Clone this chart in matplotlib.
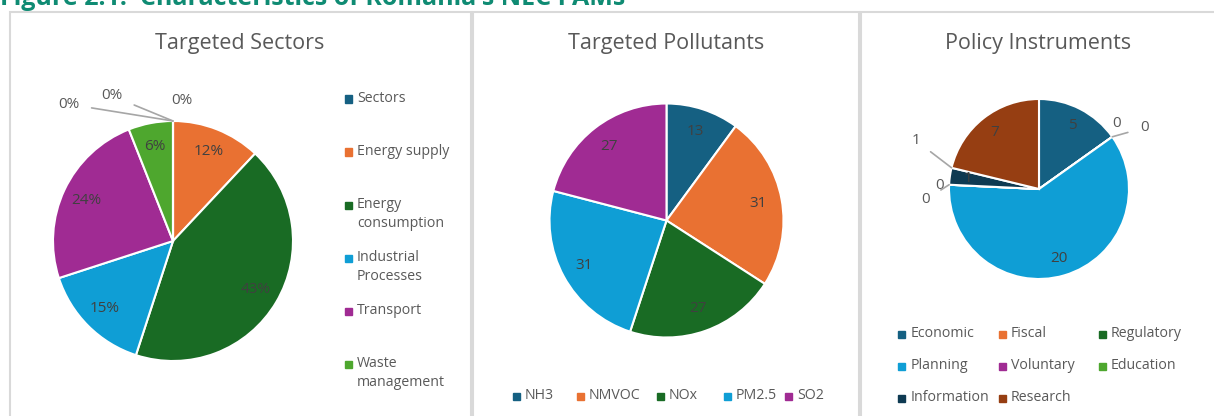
import matplotlib
matplotlib.use("Agg")
import matplotlib.pyplot as plt
from matplotlib.patches import Rectangle
import numpy as np

plt.rcParams['font.family'] = ['Open Sans', 'DejaVu Sans']

# data
sector_names = ['Sectors', 'Energy supply', 'Energy\nconsumption', 'Industrial\nProcesses',
                'Transport', 'Waste\nmanagement', '', '']
sector_pct = [0, 12, 43, 15, 24, 6, 0, 0]

pollutant_names = ['NH3', 'NMVOC', 'NOx', 'PM2.5', 'SO2']
pollutant_counts = [13, 31, 27, 31, 27]

instrument_names = ['Economic', 'Fiscal', 'Regulatory', 'Planning', 'Voluntary',
                    'Education', 'Information', 'Research']
instrument_counts = [5, 0, 0, 20, 0, 0, 1, 7]

c_sec = ['#156082', '#E97132', '#196B24', '#0F9ED5', '#A02B93', '#4EA72E', '#156082', '#E97132']
c_pol = ['#156082', '#E97132', '#196B24', '#0F9ED5', '#A02B93']
c_ins = ['#156082', '#E97132', '#196B24', '#0F9ED5', '#A02B93', '#4EA72E', '#0E3A52', '#963E12']

W, H = 1214, 416
fig = plt.figure(figsize=(W / 100, H / 100), dpi=100)
grey = '#595959'
lab = '#404040'


def fx(x):
    return x / W


def fy(y):
    return 1 - y / H


# panel frames
for x0, x1 in [(10, 471), (473, 859), (861, 1216)]:
    fig.add_artist(Rectangle((fx(x0), fy(420)), fx(x1 - x0), (420 - 12) / H,
                             fill=False, ec='#D9D9D9', lw=1.5, transform=fig.transFigure))

fig.text(fx(0), fy(5), "Figure 2.1:  Characteristics of Romania's NEC PAMs",
         color='#0F8B73', fontsize=18, fontweight='bold', va='baseline')

fig.text(fx(240), fy(43), 'Targeted Sectors', ha='center', va='center', fontsize=15.5, color=grey)
fig.text(fx(666), fy(43), 'Targeted Pollutants', ha='center', va='center', fontsize=15.5, color=grey)
fig.text(fx(1038), fy(43), 'Policy Instruments', ha='center', va='center', fontsize=15.5, color=grey)


def pie_axes(cx, cy, r, s):
    ax = fig.add_axes([fx(cx - s), fy(cy + s), 2 * s / W, 2 * s / H])
    ax.set_xlim(-s / r, s / r)
    ax.set_ylim(-s / r, s / r)
    ax.set_aspect('equal')
    ax.axis('off')
    return ax


def draw_pie(ax, vals, colors, fmt):
    wedges, texts = ax.pie(vals, colors=colors, startangle=90, counterclock=False,
                           wedgeprops=dict(edgecolor='white', linewidth=1.5),
                           labels=[fmt(v) if v > 0 else '' for v in vals],
                           labeldistance=0.8, frame=True,
                           textprops=dict(color=lab, fontsize=11, ha='center', va='center'))
    for t in texts:
        t.set_ha('center')
    return wedges


def zero_label(ax, wedge, text, xy_text, line=True):
    a = np.deg2rad(wedge.theta1)
    p = (np.cos(a), np.sin(a))
    if line:
        ax.annotate(text, xy=p, xytext=xy_text, fontsize=11, color=grey,
                    ha='center', va='center',
                    arrowprops=dict(arrowstyle='-', color='#A6A6A6', lw=1.2,
                                    shrinkA=7, shrinkB=0))
    else:
        ax.text(xy_text[0], xy_text[1], text, fontsize=11, color=grey, ha='center', va='center')


# pie 1
ax1 = pie_axes(173, 241, 120, 140)
w1 = draw_pie(ax1, sector_pct, c_sec, lambda v: f'{v}%')
zero_label(ax1, w1[0], '0%', (0.07, 1.17), line=False)
zero_label(ax1, w1[6], '0%', (-0.51, 1.21))
zero_label(ax1, w1[7], '0%', (-0.87, 1.14))

# pie 2
ax2 = pie_axes(666.5, 220.5, 117, 130)
draw_pie(ax2, pollutant_counts, c_pol, lambda v: f'{v}')

# pie 3
ax3 = pie_axes(1039, 189, 90, 105)
w3 = draw_pie(ax3, instrument_counts, c_ins, lambda v: f'{v}')
zero_label(ax3, w3[1], '0', (0.86, 0.73), line=False)
zero_label(ax3, w3[2], '0', (1.17, 0.68))
zero_label(ax3, w3[4], '0', (-1.11, 0.04), line=False)
zero_label(ax3, w3[5], '0', (-1.26, -0.12))
zero_label(ax3, w3[6], '1', (-1.37, 0.54))


def legend_item(x, y, name, color):
    fig.add_artist(Rectangle((fx(x - 3.5), fy(y + 3.5)), 7 / W, 7 / H, color=color,
                             transform=fig.transFigure))
    fig.text(fx(x + 9), fy(y), name, fontsize=10.2, color=grey, va='top',
             linespacing=1.35, transform=fig.transFigure)


# legends
for i, name in enumerate(sector_names[:6]):
    y = 99 + 53 * i
    legend_item(348, y, name, c_sec[i])
    fig.texts[-1].set_position((fx(357), fy(y - 8)))

pol_x = [516, 580, 660, 727, 788]
for i, name in enumerate(pollutant_names):
    legend_item(pol_x[i], 396, name, c_pol[i])
    fig.texts[-1].set_position((fx(pol_x[i] + 9), fy(388)))

ins_x = [902, 1002, 1102]
for i, name in enumerate(instrument_names):
    x = ins_x[i % 3]
    y = 334 + 32 * (i // 3)
    legend_item(x, y, name, c_ins[i])
    fig.texts[-1].set_position((fx(x + 9), fy(y - 8)))

fig.savefig('out.png', dpi=100)
